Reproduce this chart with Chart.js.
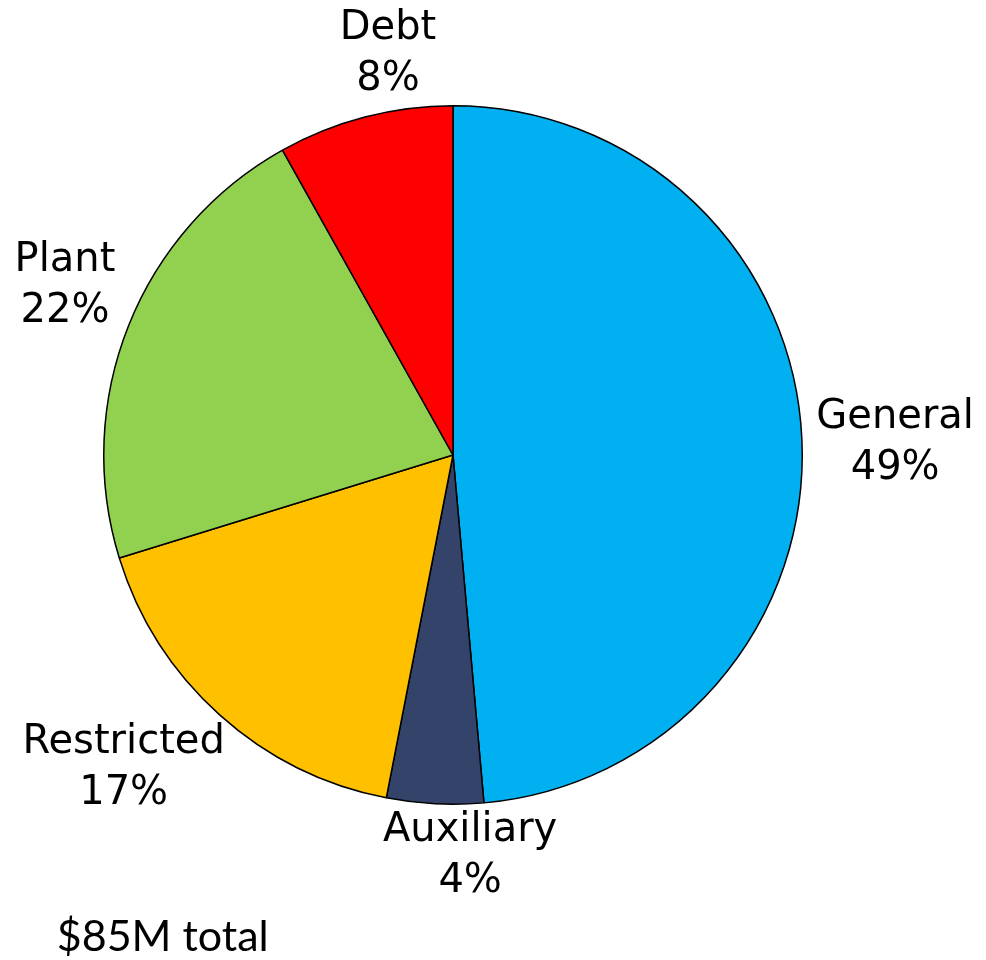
<!DOCTYPE html>
<html>
<head>
<meta charset="utf-8">
<script src="https://cdn.jsdelivr.net/npm/chart.js@4"></script>
<style>
html,body{margin:0;padding:0;background:#fff;}
#wrap{width:986px;height:960px;position:relative;}
</style>
</head>
<body>
<div id="wrap"><canvas id="c"></canvas></div>
<script>
const categories = ["General", "Auxiliary", "Restricted", "Plant", "Debt"];
// estimated amounts in $M (total $85M)
const amounts = [41.3, 3.8, 14.6, 18.4, 6.9];
const sliceColors = ["#00B0F0", "#344369", "#FFC000", "#92D050", "#FF0000"];
const totalLabel = "$85M total";

// label anchor offsets, in units of the pie radius, relative to the pie centre
const labelOffsets = [
  [1.266, -0.034],
  [0.049, 1.149],
  [-0.943, 0.897],
  [-1.111, -0.483],
  [-0.186, -1.149]
];
const totalOffset = [-0.831, 1.38];

const labelPlugin = {
  id: 'pieLabels',
  afterDraw(chart) {
    const ctx = chart.ctx;
    const meta = chart.getDatasetMeta(0);
    const arc0 = meta.data[0];
    const cx = arc0.x, cy = arc0.y, R = arc0.outerRadius;
    const total = amounts.reduce((a, b) => a + b, 0);
    ctx.save();
    ctx.fillStyle = '#000';
    ctx.textAlign = 'center';
    ctx.textBaseline = 'middle';
    ctx.font = '40px "DejaVu Sans", Verdana, sans-serif';
    const lh = 51;
    categories.forEach((name, i) => {
      const x = cx + R * labelOffsets[i][0];
      const y = cy + R * labelOffsets[i][1];
      ctx.fillText(name, x, y - lh / 2);
      ctx.fillText(Math.round(amounts[i] / total * 100) + '%', x, y + lh / 2);
    });
    ctx.font = '43px Lato, "Open Sans", sans-serif';
    ctx.fillText(totalLabel, cx + R * totalOffset[0], cy + R * totalOffset[1]);
    ctx.restore();
  }
};

new Chart(document.getElementById('c'), {
  type: 'pie',
  data: {
    labels: categories,
    datasets: [{
      data: amounts,
      backgroundColor: sliceColors,
      borderColor: '#000',
      borderWidth: 1.5
    }]
  },
  options: {
    responsive: true,
    maintainAspectRatio: false,
    animation: false,
    layout: { padding: { top: 105, bottom: 155, left: 0, right: 80 } },
    plugins: { legend: { display: false }, tooltip: { enabled: false } }
  },
  plugins: [labelPlugin]
});
</script>
</body>
</html>
